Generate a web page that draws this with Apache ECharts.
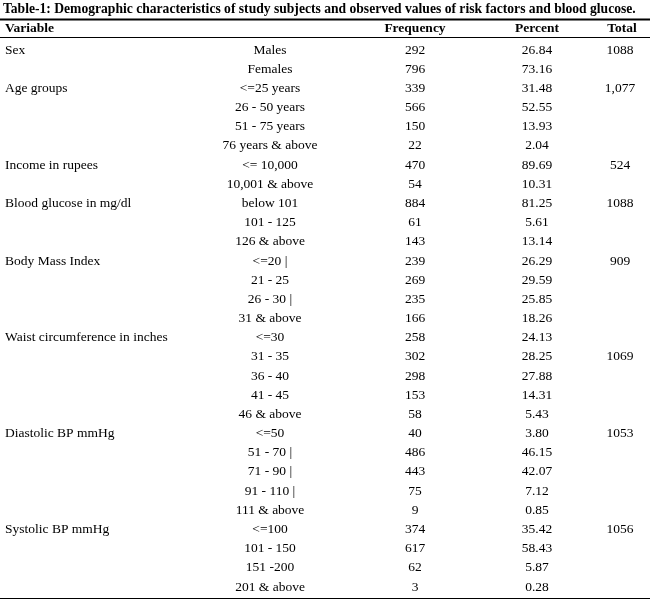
<!DOCTYPE html>
<html>
<head>
<meta charset="utf-8">
<script src="https://cdn.jsdelivr.net/npm/echarts@6/dist/echarts.min.js"></script>
<style>html,body{margin:0;padding:0;background:#fff}#chart1{width:650px;height:604px}</style>
</head>
<body>
<div id="chart1"></div>
<script>
var titleText = 'Table-1: Demographic characteristics of study subjects and observed values of risk factors and blood glucose.';
var headers = ['Variable', 'Frequency', 'Percent', 'Total'];
var variables = ['Sex', '', 'Age groups', '', '', '', 'Income in rupees', '', 'Blood glucose in mg/dl', '', '',
    'Body Mass Index', '', '', '', 'Waist circumference in inches', '', '', '', '', 'Diastolic BP mmHg', '', '', '', '',
    'Systolic BP mmHg', '', '', ''];
var categories = ['Males', 'Females', '<=25 years', '26 - 50 years', '51 - 75 years', '76 years & above',
    '<= 10,000', '10,001 & above', 'below 101', '101 - 125', '126 & above',
    '<=20 |', '21 - 25', '26 - 30 |', '31 & above',
    '<=30', '31 - 35', '36 - 40', '41 - 45', '46 & above',
    '<=50', '51 - 70 |', '71 - 90 |', '91 - 110 |', '111 & above',
    '<=100', '101 - 150', '151 -200', '201 & above'];
var frequency = [292, 796, 339, 566, 150, 22, 470, 54, 884, 61, 143, 239, 269, 235, 166,
    258, 302, 298, 153, 58, 40, 486, 443, 75, 9, 374, 617, 62, 3];
var percent = ['26.84', '73.16', '31.48', '52.55', '13.93', '2.04', '89.69', '10.31', '81.25', '5.61', '13.14',
    '26.29', '29.59', '25.85', '18.26', '24.13', '28.25', '27.88', '14.31', '5.43',
    '3.80', '46.15', '42.07', '7.12', '0.85', '35.42', '58.43', '5.87', '0.28'];
var totals = ['1088', '', '1,077', '', '', '', '524', '', '1088', '', '', '909', '', '', '',
    '', '1069', '', '', '', '1053', '', '', '', '', '1056', '', '', ''];

var chart1 = echarts.init(document.getElementById('chart1'));
var font = '"Liberation Serif", "DejaVu Serif", serif';
var bodyFont = '13.5px ' + font;
var headFont = 'bold 13.5px ' + font;
// column x (value axis 0..650) and alignment
var cols = [[5, 'left'], [270, 'center'], [415, 'center'], [537, 'center'], [620, 'center']];
var rows = categories.map(function (c, i) {
    return [i, variables[i], c, String(frequency[i]), percent[i], totals[i]];
});
var option = {
    animation: false,
    title: {
        text: titleText, left: 3, top: 2, padding: 0,
        textStyle: {fontFamily: font, fontSize: 13.6, fontWeight: 'bold', color: '#000'}
    },
    grid: {left: 0, right: 0, top: 40.4, bottom: 7.4},
    xAxis: {type: 'value', min: 0, max: 650, show: false},
    yAxis: {type: 'category', data: categories, inverse: true, show: false},
    graphic: [
        {type: 'line', shape: {x1: 0, y1: 19.5, x2: 650, y2: 19.5}, style: {stroke: '#000', lineWidth: 2}},
        {type: 'line', shape: {x1: 0, y1: 37.5, x2: 650, y2: 37.5}, style: {stroke: '#000', lineWidth: 1}},
        {type: 'line', shape: {x1: 0, y1: 598.5, x2: 650, y2: 598.5}, style: {stroke: '#000', lineWidth: 1}},
        {type: 'text', x: 5, y: 28.5, style: {text: headers[0], font: headFont, fill: '#000', verticalAlign: 'middle'}},
        {type: 'text', x: 415, y: 28.5, style: {text: headers[1], font: headFont, fill: '#000', align: 'center', verticalAlign: 'middle'}},
        {type: 'text', x: 537, y: 28.5, style: {text: headers[2], font: headFont, fill: '#000', align: 'center', verticalAlign: 'middle'}},
        {type: 'text', x: 622, y: 28.5, style: {text: headers[3], font: headFont, fill: '#000', align: 'center', verticalAlign: 'middle'}}
    ],
    series: [{
        type: 'custom',
        data: rows,
        encode: {y: 0},
        renderItem: function (params, api) {
            var i = api.value(0);
            var children = [];
            for (var c = 0; c < cols.length; c++) {
                var p = api.coord([cols[c][0], i]);
                children.push({
                    type: 'text', x: p[0], y: p[1],
                    style: {
                        text: rows[i][c + 1], font: bodyFont, fill: '#000',
                        align: cols[c][1], verticalAlign: 'middle'
                    }
                });
            }
            return {type: 'group', children: children};
        }
    }]
};
chart1.setOption(option);
</script>
</body>
</html>
